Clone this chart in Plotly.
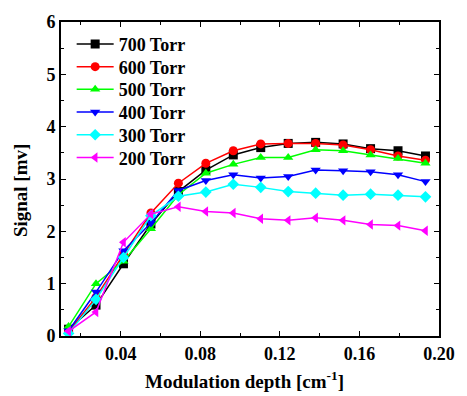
import plotly.graph_objects as go

depth = [0.0138, 0.0276, 0.0414, 0.0552, 0.0690, 0.0828, 0.0966, 0.1104,
         0.1242, 0.1380, 0.1518, 0.1656, 0.1794, 0.1932]

s700 = [0.13, 0.59, 1.38, 2.14, 2.76, 3.17, 3.46, 3.60, 3.68, 3.70, 3.67, 3.58, 3.54, 3.44]
s600 = [0.08, 0.74, 1.56, 2.35, 2.92, 3.30, 3.54, 3.67, 3.68, 3.68, 3.65, 3.56, 3.44, 3.36]
s500 = [0.18, 1.00, 1.43, 2.05, 2.70, 3.11, 3.28, 3.41, 3.41, 3.56, 3.54, 3.46, 3.39, 3.30]
s400 = [0.10, 0.84, 1.63, 2.16, 2.78, 2.97, 3.08, 3.02, 3.05, 3.17, 3.16, 3.14, 3.08, 2.95]
s300 = [0.05, 0.70, 1.50, 2.30, 2.67, 2.75, 2.90, 2.84, 2.76, 2.73, 2.69, 2.71, 2.69, 2.66]
s200 = [0.09, 0.46, 1.79, 2.33, 2.47, 2.38, 2.35, 2.24, 2.21, 2.26, 2.21, 2.13, 2.11, 2.01]

names = ["700 Torr", "600 Torr", "500 Torr", "400 Torr", "300 Torr", "200 Torr"]
colors = ["#000000", "#ff0000", "#00ff00", "#0000ff", "#00ffff", "#ff00ff"]
symbols = ["square", "circle", "triangle-up", "triangle-down", "diamond", "triangle-left"]
series = [s700, s600, s500, s400, s300, s200]

font_family = "Liberation Serif"
W, H = 467, 396
ML, MR, MT, MB = 61, 16, 18, 60
PW, PH = W - ML - MR, H - MT - MB

def px_x(px):
    return (px - ML) / PW

def px_y(py):
    return (H - MB - py) / PH

legend_rows_px = [40.5, 63.5, 86.5, 109.5, 132.5, 155.5]

fig = go.Figure()
layout_legends = {}
for i, (name, col, sym, ys) in enumerate(zip(names, colors, symbols, series)):
    lname = "legend" if i == 0 else "legend%d" % (i + 1)
    fig.add_trace(go.Scatter(
        x=depth, y=ys, name=name, mode="lines+markers",
        line=dict(color=col, width=1.5),
        marker=dict(symbol=sym, size=9, color=col),
        legend=lname,
    ))
    layout_legends[lname] = dict(
        x=px_x(72), y=px_y(legend_rows_px[i]), xanchor="left", yanchor="middle",
        bgcolor="rgba(0,0,0,0)", borderwidth=0,
        font=dict(family=font_family, size=18, color="black", weight="bold"),
        itemwidth=37,
    )

axis_common = dict(
    showgrid=False, zeroline=False, showline=True, linecolor="black", linewidth=1.8,
    mirror="ticks", ticks="inside", ticklen=5, tickwidth=1.3, tickcolor="black",
    tickfont=dict(family=font_family, size=18, color="black", weight="bold"),
)

fig.update_xaxes(
    range=[0.01, 0.20], tick0=0, dtick=0.04, tickformat=".2f",
    minor=dict(dtick=0.02, tick0=0, ticks="inside", ticklen=3, tickwidth=1.2, tickcolor="black"),
    **axis_common,
)
fig.update_yaxes(
    range=[0, 6], tick0=0, dtick=1,
    minor=dict(dtick=0.5, tick0=0, ticks="inside", ticklen=3, tickwidth=1.2, tickcolor="black"),
    **axis_common,
)

title_font = dict(family=font_family, size=19, color="black", weight="bold")
fig.add_annotation(
    text="Modulation depth [cm<sup>-1</sup>]", xref="paper", yref="paper",
    x=px_x(250), y=px_y(381), xanchor="center", yanchor="middle",
    showarrow=False, font=title_font,
)
fig.add_annotation(
    text="Signal [mv]", xref="paper", yref="paper", textangle=-90,
    x=px_x(20), y=px_y(189), xanchor="center", yanchor="middle",
    showarrow=False, font=title_font,
)

fig.update_layout(
    width=W, height=H,
    margin=dict(l=ML, r=MR, t=MT, b=MB),
    paper_bgcolor="white", plot_bgcolor="white",
    font=dict(family=font_family),
    showlegend=True,
    **layout_legends,
)

fig.write_html("out.html", config={"displayModeBar": False})

# remove default page margin so the figure sits at the window origin
with open("out.html", "r", encoding="utf-8") as f:
    html = f.read()
html = html.replace("<body>", '<body style="margin:0;padding:0;">', 1)
with open("out.html", "w", encoding="utf-8") as f:
    f.write(html)
